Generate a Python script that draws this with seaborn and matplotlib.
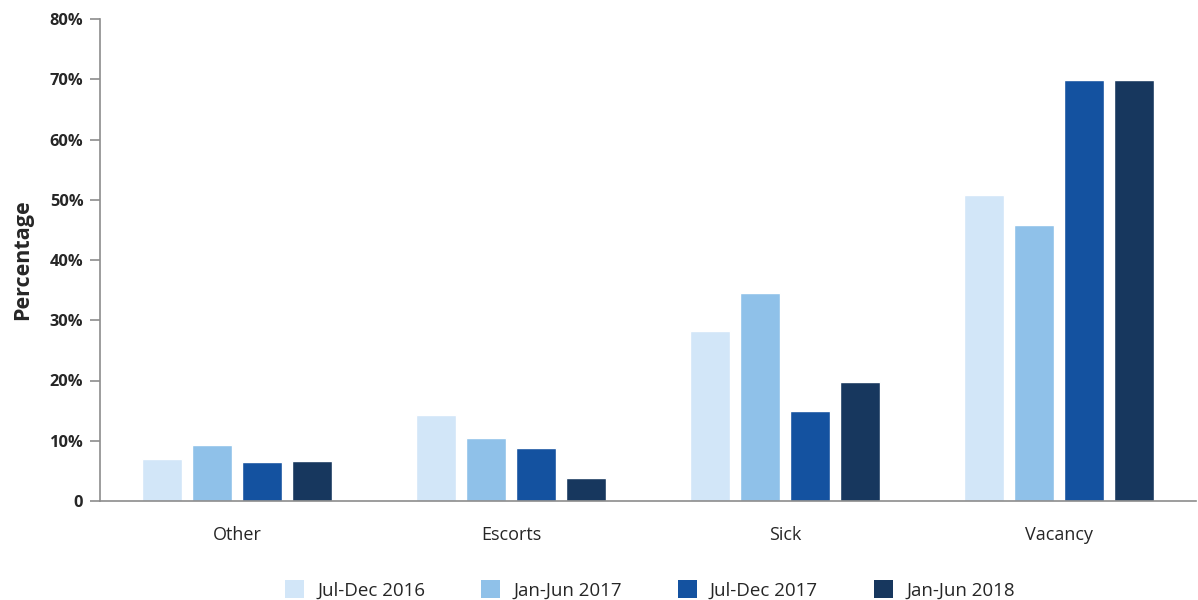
import matplotlib
matplotlib.use("Agg")
import matplotlib.pyplot as plt
import seaborn as sns
import pandas as pd
from matplotlib.patches import Patch
from matplotlib.ticker import FuncFormatter

# Reasons, by reporting period (percent)
categories = ["Other", "Escorts", "Sick", "Vacancy"]
periods = ["Jul-Dec 2016", "Jan-Jun 2017", "Jul-Dec 2017", "Jan-Jun 2018"]
jul_dec_2016 = [7.0, 14.3, 28.2, 50.8]
jan_jun_2017 = [9.3, 10.4, 34.6, 45.8]
jul_dec_2017 = [6.5, 8.8, 14.9, 69.8]
jan_jun_2018 = [6.7, 3.8, 19.8, 69.8]
y_ticks = [0, 10, 20, 30, 40, 50, 60, 70, 80]

colors = ["#D2E6F8", "#8FC1E9", "#1452A0", "#17375E"]

series = [jul_dec_2016, jan_jun_2017, jul_dec_2017, jan_jun_2018]
df = pd.DataFrame(
    [(c, p, v) for p, vals in zip(periods, series) for c, v in zip(categories, vals)],
    columns=["Reason", "Period", "Percentage"],
)

sns.set_theme(style="white")
plt.rcParams["font.family"] = ["Open Sans", "DejaVu Sans"]

fig = plt.figure(figsize=(11.98, 6.0), dpi=100)
ax = fig.add_axes([100 / 1198, 1 - 501 / 600, 1096 / 1198, 482 / 600])

sns.barplot(
    data=df, x="Reason", y="Percentage", hue="Period",
    order=categories, hue_order=periods, palette=colors,
    width=0.73, gap=0.2, saturation=1, ax=ax, legend=False,
)

ax.set_xlim(-0.5, 3.5)
ax.set_ylim(0, 80)
ax.set_yticks(y_ticks)
ax.yaxis.set_major_formatter(FuncFormatter(lambda v, _: "0" if v == 0 else f"{v:.0f}%"))

for side in ["top", "right"]:
    ax.spines[side].set_visible(False)
for side in ["left", "bottom"]:
    ax.spines[side].set_color("#8c8c8c")
    ax.spines[side].set_linewidth(1.2)

ax.tick_params(axis="y", which="both", left=True, length=7, width=1.2,
               color="#8c8c8c", labelsize=11.8, pad=5)
ax.tick_params(axis="x", bottom=False, labelsize=13, pad=12)
for lab in ax.get_yticklabels():
    lab.set_fontweight("bold")
    lab.set_color("#262626")
for lab in ax.get_xticklabels():
    lab.set_color("#262626")

ax.set_xlabel("")
ax.set_ylabel("Percentage", fontsize=15.5, fontweight="bold", color="#262626", labelpad=12)

handles = [Patch(facecolor=c, edgecolor="none") for c in colors]
fig.legend(
    handles, periods, loc="center", bbox_to_anchor=(650 / 1198, 1 - 590 / 600),
    ncol=4, frameon=False, fontsize=13.5, handlelength=1.0, handleheight=1.05,
    handletextpad=0.7, columnspacing=3.0,
)
for t in fig.legends[0].get_texts():
    t.set_color("#262626")

fig.savefig("out.png", dpi=100)
